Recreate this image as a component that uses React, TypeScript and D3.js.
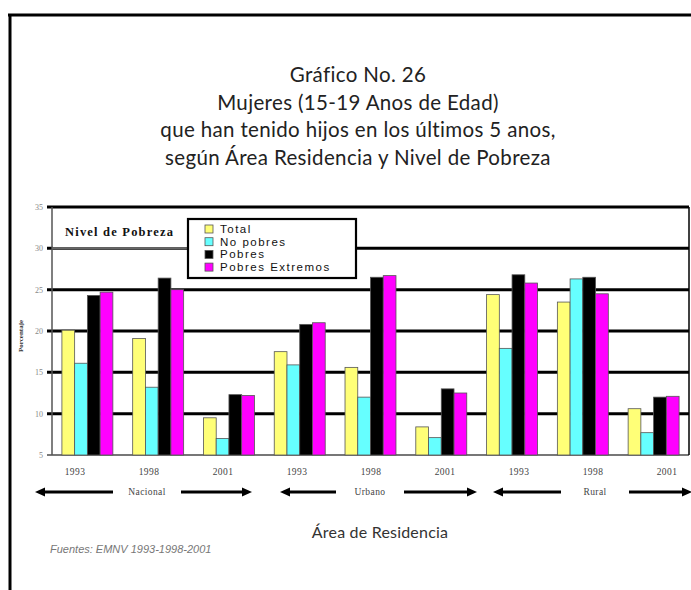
import React from "react";
import * as d3 from "d3";

const areas = ["Nacional", "Urbano", "Rural"];
const years = ["1993", "1998", "2001"];
const seriesNames = ["Total", "No pobres", "Pobres", "Pobres Extremos"];
const seriesColors = ["#FFFF77", "#66FFFF", "#000000", "#FF00FF"];
const total = [20.1, 19.1, 9.5, 17.5, 15.6, 8.4, 24.4, 23.5, 10.6];
const noPobres = [16.1, 13.2, 7.0, 15.9, 12.0, 7.1, 17.9, 26.3, 7.7];
const pobres = [24.3, 26.4, 12.3, 20.8, 26.5, 13.0, 26.8, 26.5, 12.0];
const extremos = [24.7, 25.0, 12.2, 21.0, 26.7, 12.5, 25.8, 24.5, 12.1];
const yTicks = [5, 10, 15, 20, 25, 30, 35];
const titleLines = [
  "Gráfico No. 26",
  "Mujeres (15-19 Anos de Edad)",
  "que han tenido hijos en los últimos 5 anos,",
  "según Área Residencia y Nivel de Pobreza",
];

const seriesValues = [total, noPobres, pobres, extremos];

export default function App() {
  const W = 691, H = 590;
  const left = 52, right = 689, top = 207, bottom = 455;
  const groups = areas.flatMap((a) => years.map((y) => `${a}-${y}`));
  const x0 = d3.scaleBand<string>().domain(groups).range([left, right]).padding(0);
  const bw = x0.bandwidth();
  const x1 = d3.scaleBand<string>().domain(seriesNames).range([bw * 0.14, bw * 0.86]).padding(0);
  const y = d3.scaleLinear().domain([5, 35]).range([bottom, top]);
  const xLabel = d3.scalePoint<string>().domain(groups).range([75, 667]);

  const arrowY = 492;
  const arrowSpans = [
    { name: "Nacional", x1: 35, x2: 252, tx: 147 },
    { name: "Urbano", x1: 280, x2: 477, tx: 370 },
    { name: "Rural", x1: 493, x2: 692, tx: 595 },
  ];

  const head = (xTip: number, dir: number) =>
    `M${xTip},${arrowY} L${xTip - dir * 10},${arrowY - 4.5} L${xTip - dir * 10},${arrowY + 4.5} Z`;

  return (
    <svg
      width={W}
      height={H}
      style={{ position: "absolute", left: 0, top: 0, background: "#fff" }}
      xmlns="http://www.w3.org/2000/svg"
    >
      <rect x={0} y={0} width={W} height={H} fill="#fff" />
      {/* outer frame */}
      <line x1={8} x2={W} y1={15} y2={15} stroke="#000" strokeWidth={3} />
      <line x1={10} x2={10} y1={14} y2={H} stroke="#000" strokeWidth={3} />

      {/* title */}
      {titleLines.map((t, i) => (
        <text
          key={i}
          x={358}
          y={82 + i * 27.7}
          textAnchor="middle"
          fontFamily="Lato, 'Open Sans', sans-serif"
          fontSize={20.5}
          letterSpacing={0.35}
          fill="#222"
        >
          {t}
        </text>
      ))}

      {/* gridlines */}
      {yTicks.map((t) => (
        <g key={t}>
          <line
            x1={left - 5}
            x2={right}
            y1={y(t)}
            y2={y(t)}
            stroke={t === 5 ? "#777" : "#000"}
            strokeWidth={t === 5 ? 2 : 3}
          />
          <text
            x={43}
            y={y(t) + 3}
            textAnchor="end"
            fontFamily="'Liberation Serif', serif"
            fontSize={8}
            fill="#888"
          >
            {t}
          </text>
        </g>
      ))}
      <line x1={left} x2={left} y1={top} y2={bottom} stroke="#555" strokeWidth={1.5} />
      <line x1={right} x2={right} y1={top} y2={bottom} stroke="#000" strokeWidth={1.5} />

      {/* Nivel de Pobreza box */}
      <rect x={left + 1} y={top + 2} width={136} height={y(30) - top - 3} fill="#fff" />
      <line x1={left} x2={190} y1={y(30)} y2={y(30)} stroke="#666" strokeWidth={2} />
      <text
        x={65}
        y={236}
        fontFamily="'Liberation Serif', serif"
        fontWeight="bold"
        fontSize={12.5}
        letterSpacing={1.2}
        fill="#111"
      >
        Nivel de Pobreza
      </text>

      {/* bars */}
      {groups.map((g, gi) => (
        <g key={g} transform={`translate(${x0(g)},0)`}>
          {seriesNames.map((s, si) => {
            const v = seriesValues[si][gi];
            return (
              <rect
                key={s}
                x={x1(s)}
                y={y(v)}
                width={x1.bandwidth()}
                height={y(5) - y(v)}
                fill={seriesColors[si]}
                stroke="#555"
                strokeWidth={0.8}
              />
            );
          })}
        </g>
      ))}

      {/* year labels */}
      {groups.map((g, gi) => (
        <text
          key={g}
          x={xLabel(g)}
          y={475}
          textAnchor="middle"
          fontFamily="'Liberation Serif', serif"
          fontSize={9.5}
          letterSpacing={0.4}
          fill="#444"
        >
          {years[gi % 3]}
        </text>
      ))}

      {/* area arrows */}
      {arrowSpans.map((a) => (
        <g key={a.name}>
          <line x1={a.x1 + 6} x2={a.tx - 34} y1={arrowY} y2={arrowY} stroke="#000" strokeWidth={3} />
          <line x1={a.tx + 34} x2={a.x2 - 6} y1={arrowY} y2={arrowY} stroke="#000" strokeWidth={3} />
          <path d={head(a.x1, -1)} fill="#000" />
          <path d={head(a.x2, 1)} fill="#000" />
          <text
            x={a.tx}
            y={arrowY + 3}
            textAnchor="middle"
            fontFamily="'Liberation Serif', serif"
            fontSize={9.5}
            letterSpacing={0.4}
            fill="#444"
          >
            {a.name}
          </text>
        </g>
      ))}

      {/* y axis title */}
      <text
        transform={`translate(23,${(top + bottom) / 2 + 5}) rotate(-90)`}
        textAnchor="middle"
        fontFamily="'Liberation Serif', serif"
        fontWeight="bold"
        fontSize={7}
        fill="#333"
      >
        Porcentaje
      </text>

      {/* x axis title */}
      <text
        x={380}
        y={538}
        textAnchor="middle"
        fontFamily="Lato, 'Open Sans', sans-serif"
        fontSize={16}
        letterSpacing={0.2}
        fill="#333"
      >
        Área de Residencia
      </text>

      {/* source */}
      <text
        x={50}
        y={553}
        fontFamily="'Liberation Sans', sans-serif"
        fontStyle="italic"
        fontSize={11}
        fill="#777"
      >
        Fuentes: EMNV 1993-1998-2001
      </text>

      {/* legend */}
      <rect x={188} y={219} width={168} height={59} fill="#fff" stroke="#000" strokeWidth={2.2} />
      {seriesNames.map((s, i) => (
        <g key={s}>
          <rect
            x={205}
            y={225 + i * 12.7}
            width={8}
            height={8}
            fill={seriesColors[i]}
            stroke="#555"
            strokeWidth={0.8}
          />
          <text
            x={220}
            y={233 + i * 12.7}
            fontFamily="'Liberation Sans', Arial, sans-serif"
            fontSize={11.5}
            letterSpacing={1.5}
            fill="#111"
          >
            {s}
          </text>
        </g>
      ))}
    </svg>
  );
}
